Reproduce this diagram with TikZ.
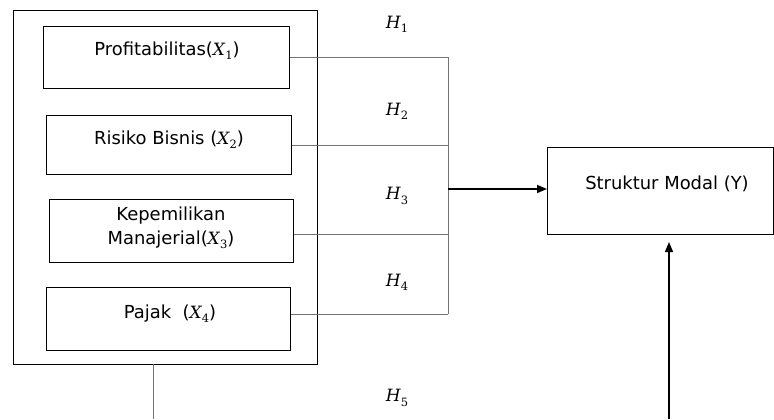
\documentclass[tikz,border=0pt]{standalone}
\usepackage{fontspec}
\setmainfont{DejaVu Sans}
\newfontfamily\serifit{DejaVu Serif}
\newcommand\vsub[2]{{\serifit\fontsize{17}{20}\selectfont\itshape #1\kern0.02em\raisebox{-0.25em}{\upshape\fontsize{11.5}{14}\selectfont #2}}}
\usetikzlibrary{arrows.meta}
\begin{document}
\begin{tikzpicture}[x=1bp,y=-1bp,
  box/.style={draw=black,line width=1.3bp,inner sep=0pt,anchor=north west},
  lbl/.style={inner sep=0pt,font=\fontsize{18}{24}\selectfont,align=center},
  hlab/.style={inner sep=0pt,font=\fontsize{18}{22}\selectfont},
  conn/.style={draw=gray!90!black,line width=1bp},
  arr/.style={draw=black,line width=1.5bp,-{Triangle[length=10bp,width=8bp]}}]
\useasboundingbox (0,0) rectangle (774,419);
% outer box
\node[box,minimum width=304bp,minimum height=354bp] (outer) at (13,10) {};
% inner boxes
\node[box,minimum width=246bp,minimum height=62bp] (b1) at (43,26) {};
\node[box,minimum width=245bp,minimum height=59bp] (b2) at (46,115) {};
\node[box,minimum width=244bp,minimum height=63bp] (b3) at (49,199) {};
\node[box,minimum width=244bp,minimum height=63bp] (b4) at (46,287) {};
\node[box,minimum width=226bp,minimum height=87bp] (S) at (547,147) {};
% texts
\node[lbl] (t1) at (167,51) {Profitabilitas(\vsub{X}{1})};
\node[lbl] (t2) at (169,140) {Risiko Bisnis (\vsub{X}{2})};
\node[lbl] (t3) at (171,228) {Kepemilikan\\Manajerial(\vsub{X}{3})};
\node[lbl] (t4) at (170,314) {Pajak\ \ (\vsub{X}{4})};
\node[lbl] (tS) at (667,184) {Struktur Modal (Y)};
% hypothesis labels
\node[hlab] (h1) at (397,24) {\vsub{H}{1}};
\node[hlab] (h2) at (397,111) {\vsub{H}{2}};
\node[hlab] (h3) at (397,196) {\vsub{H}{3}};
\node[hlab] (h4) at (397,282) {\vsub{H}{4}};
\node[hlab] (h5) at (397,398) {\vsub{H}{5}};
% junction coordinates
\coordinate (j1) at (448,57);
\coordinate (j2) at (448,145);
\coordinate (j3) at (448,234);
\coordinate (j4) at (448,314);
\coordinate (jm) at (448,189);
\coordinate (o5) at (153,364);
\coordinate (o6) at (153,419);
\coordinate (v0) at (669,419);
\coordinate (v1) at (669,242);
% connectors
\draw[conn] (b1.east |- j1) -- (j1);
\draw[conn] (b2.east |- j2) -- (j2);
\draw[conn] (b3.east |- j3) -- (j3);
\draw[conn] (b4.east |- j4) -- (j4);
\draw[conn] (j1) -- (j4);
\draw[conn] (o5) -- (o6);
\draw[arr] (jm) -- (jm -| S.west);
\draw[arr] (v0) -- (v1);
\end{tikzpicture}
\end{document}
